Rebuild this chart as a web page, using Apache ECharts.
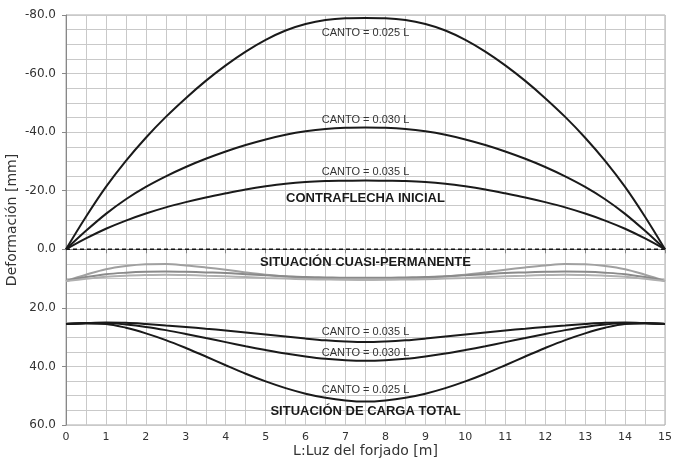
<!DOCTYPE html>
<html>
<head>
<meta charset="utf-8">
<script src="https://cdn.jsdelivr.net/npm/echarts@6/dist/echarts.min.js"></script>
<style>
    html, body { margin: 0; padding: 0; background: #fff; }
    #main { width: 673px; height: 460px; }
</style>
</head>
<body>
<div id="main"></div>
<script>
    // luz del forjado [m], paso 0.5
    var xs = [0, 0.5, 1, 1.5, 2, 2.5, 3, 3.5, 4, 4.5, 5, 5.5, 6, 6.5, 7, 7.5,
        8, 8.5, 9, 9.5, 10, 10.5, 11, 11.5, 12, 12.5, 13, 13.5, 14, 14.5, 15];

    // contraflecha inicial
    var contra025 = [0, -11.1, -21.3, -30.2, -38.1, -45.2, -51.6, -57.5, -62.8, -67.5, -71.5, -74.7, -76.9, -78.3, -78.9, -79.0,
        -78.9, -78.3, -76.9, -74.7, -71.5, -67.5, -62.8, -57.5, -51.6, -45.2, -38.1, -30.2, -21.3, -11.1, 0];
    var contra030 = [0, -6.3, -12.1, -17.1, -21.3, -24.9, -28.1, -30.9, -33.4, -35.6, -37.5, -39.1, -40.3, -41.1, -41.5, -41.6,
        -41.5, -41.1, -40.3, -39.1, -37.5, -35.6, -33.4, -30.9, -28.1, -24.9, -21.3, -17.1, -12.1, -6.3, 0];
    var contra035 = [0, -3.7, -7.0, -9.8, -12.2, -14.3, -16.1, -17.7, -19.1, -20.4, -21.5, -22.4, -23.0, -23.3, -23.4, -23.5,
        -23.4, -23.3, -23.0, -22.4, -21.5, -20.4, -19.1, -17.7, -16.1, -14.3, -12.2, -9.8, -7.0, -3.7, 0];

    // situacion cuasi-permanente
    var cuasiA = [10.8, 8.7, 6.8, 5.7, 5.1, 5.0, 5.5, 6.2, 7.0, 7.9, 8.7, 9.3, 9.8, 10.1, 10.3, 10.4,
        10.3, 10.1, 9.8, 9.3, 8.7, 7.9, 7.0, 6.2, 5.5, 5.0, 5.1, 5.7, 6.8, 8.7, 10.8];
    var cuasiB = [10.8, 9.5, 8.5, 8.0, 7.7, 7.6, 7.7, 7.9, 8.1, 8.5, 8.9, 9.2, 9.5, 9.6, 9.7, 9.7,
        9.7, 9.6, 9.5, 9.2, 8.9, 8.5, 8.1, 7.9, 7.7, 7.6, 7.7, 8.0, 8.5, 9.5, 10.8];
    var cuasiC = [10.8, 10.1, 9.4, 9.0, 8.8, 8.7, 8.8, 9.0, 9.2, 9.5, 9.8, 10.0, 10.2, 10.3, 10.3, 10.3,
        10.3, 10.3, 10.2, 10.0, 9.8, 9.5, 9.2, 9.0, 8.8, 8.7, 8.8, 9.0, 9.4, 10.1, 10.8];

    // situacion de carga total
    var total035 = [25.5, 25.2, 25.0, 25.1, 25.5, 26.0, 26.5, 27.1, 27.7, 28.4, 29.1, 29.8, 30.5, 31.1, 31.5, 31.7,
        31.5, 31.1, 30.5, 29.8, 29.1, 28.4, 27.7, 27.1, 26.5, 26.0, 25.5, 25.1, 25.0, 25.2, 25.5];
    var total030 = [25.5, 25.2, 25.2, 25.7, 26.5, 27.6, 28.9, 30.3, 31.7, 33.1, 34.4, 35.6, 36.6, 37.4, 37.9, 38.1,
        37.9, 37.4, 36.6, 35.6, 34.4, 33.1, 31.7, 30.3, 28.9, 27.6, 26.5, 25.7, 25.2, 25.2, 25.5];
    var total025 = [25.5, 25.3, 25.5, 26.8, 28.7, 31.0, 33.7, 36.6, 39.6, 42.5, 45.1, 47.4, 49.3, 50.7, 51.6, 52.0,
        51.6, 50.7, 49.3, 47.4, 45.1, 42.5, 39.6, 36.6, 33.7, 31.0, 28.7, 26.8, 25.5, 25.3, 25.5];

    // textos sobre las curvas: [x, y, texto, negrita]
    var notes = [
        [7.5, -73.8, 'CANTO = 0.025 L', false],
        [7.5, -44.1, 'CANTO = 0.030 L', false],
        [7.5, -26.4, 'CANTO = 0.035 L', false],
        [7.5, -17.2, 'CONTRAFLECHA INICIAL', true],
        [7.5, 4.5, 'SITUACIÓN CUASI-PERMANENTE', true],
        [7.5, 28.2, 'CANTO = 0.035 L', false],
        [7.5, 35.4, 'CANTO = 0.030 L', false],
        [7.5, 48.2, 'CANTO = 0.025 L', false],
        [7.5, 55.4, 'SITUACIÓN DE CARGA TOTAL', true]
    ];

    function pairs(ys) {
        var out = [];
        for (var i = 0; i < xs.length; i++) {
            out.push([xs[i], ys[i]]);
        }
        return out;
    }

    function curve(ys, color) {
        return {
            type: 'line',
            data: pairs(ys),
            smooth: 0.35,
            symbol: 'none',
            silent: true,
            lineStyle: { color: color, width: 2 }
        };
    }

    var myChart = echarts.init(document.getElementById('main'));
    var gridColor = '#c9c9c9';

    var option = {
        animation: false,
        backgroundColor: '#fff',
        grid: {
            left: 66, right: 8, top: 15, bottom: 35,
            outerBoundsMode: 'none', containLabel: false,
            show: true, borderColor: '#aaa', borderWidth: 1
        },
        xAxis: {
            type: 'value',
            min: 0,
            max: 15,
            interval: 1,
            name: 'L:Luz del forjado [m]',
            nameLocation: 'middle',
            nameGap: 19,
            nameMoveOverlap: false,
            nameTextStyle: { fontFamily: 'DejaVu Sans', fontSize: 14, color: '#333' },
            axisLine: { lineStyle: { color: '#888' } },
            axisTick: { show: true, length: 4, lineStyle: { color: '#888' } },
            minorTick: { show: true, splitNumber: 2, length: 0 },
            axisLabel: { fontFamily: 'DejaVu Sans', fontSize: 11, color: '#333', margin: 7 },
            splitLine: { show: true, lineStyle: { color: gridColor, width: 1 } },
            minorSplitLine: { show: true, lineStyle: { color: gridColor, width: 1 } }
        },
        yAxis: {
            type: 'value',
            inverse: true,
            min: -80,
            max: 60,
            interval: 20,
            name: 'Deformación [mm]',
            nameLocation: 'middle',
            nameGap: 47,
            nameMoveOverlap: false,
            nameTextStyle: { fontFamily: 'DejaVu Sans', fontSize: 14, color: '#333' },
            axisLine: { show: true, lineStyle: { color: '#888' } },
            axisTick: { show: true, length: 4, lineStyle: { color: '#888' } },
            minorTick: { show: true, splitNumber: 4, length: 0 },
            axisLabel: {
                fontFamily: 'DejaVu Sans', fontSize: 12, color: '#333', margin: 10,
                formatter: function (v) { return v.toFixed(1); }
            },
            splitLine: { show: true, lineStyle: { color: gridColor, width: 1 } },
            minorSplitLine: { show: true, lineStyle: { color: gridColor, width: 1 } }
        },
        series: [
            {
                type: 'line',
                data: [[0, 0], [15, 0]],
                symbol: 'none',
                silent: true,
                lineStyle: { color: '#111', width: 1.5, type: [4, 3] }
            },
            curve(cuasiA, '#a0a0a0'),
            curve(cuasiB, '#8a8a8a'),
            curve(cuasiC, '#b0b0b0'),
            curve(contra025, '#1a1a1a'),
            curve(contra030, '#1a1a1a'),
            curve(contra035, '#1a1a1a'),
            curve(total035, '#1a1a1a'),
            curve(total030, '#1a1a1a'),
            curve(total025, '#1a1a1a')
        ]
    };

    myChart.setOption(option);

    //textos posicionados con las escalas del grafico
    var texts = [];
    for (var i = 0; i < notes.length; i++) {
        var p = myChart.convertToPixel({ gridIndex: 0 }, [notes[i][0], notes[i][1]]);
        texts.push({
            type: 'text',
            x: p[0],
            y: p[1],
            silent: true,
            style: {
                text: notes[i][2],
                align: 'center',
                verticalAlign: 'middle',
                fill: notes[i][3] ? '#1a1a1a' : '#333',
                fontFamily: 'Liberation Sans',
                fontSize: notes[i][3] ? 13 : 11,
                fontWeight: notes[i][3] ? 'bold' : 'normal'
            }
        });
    }
    myChart.setOption({ graphic: texts });
</script>
</body>
</html>
